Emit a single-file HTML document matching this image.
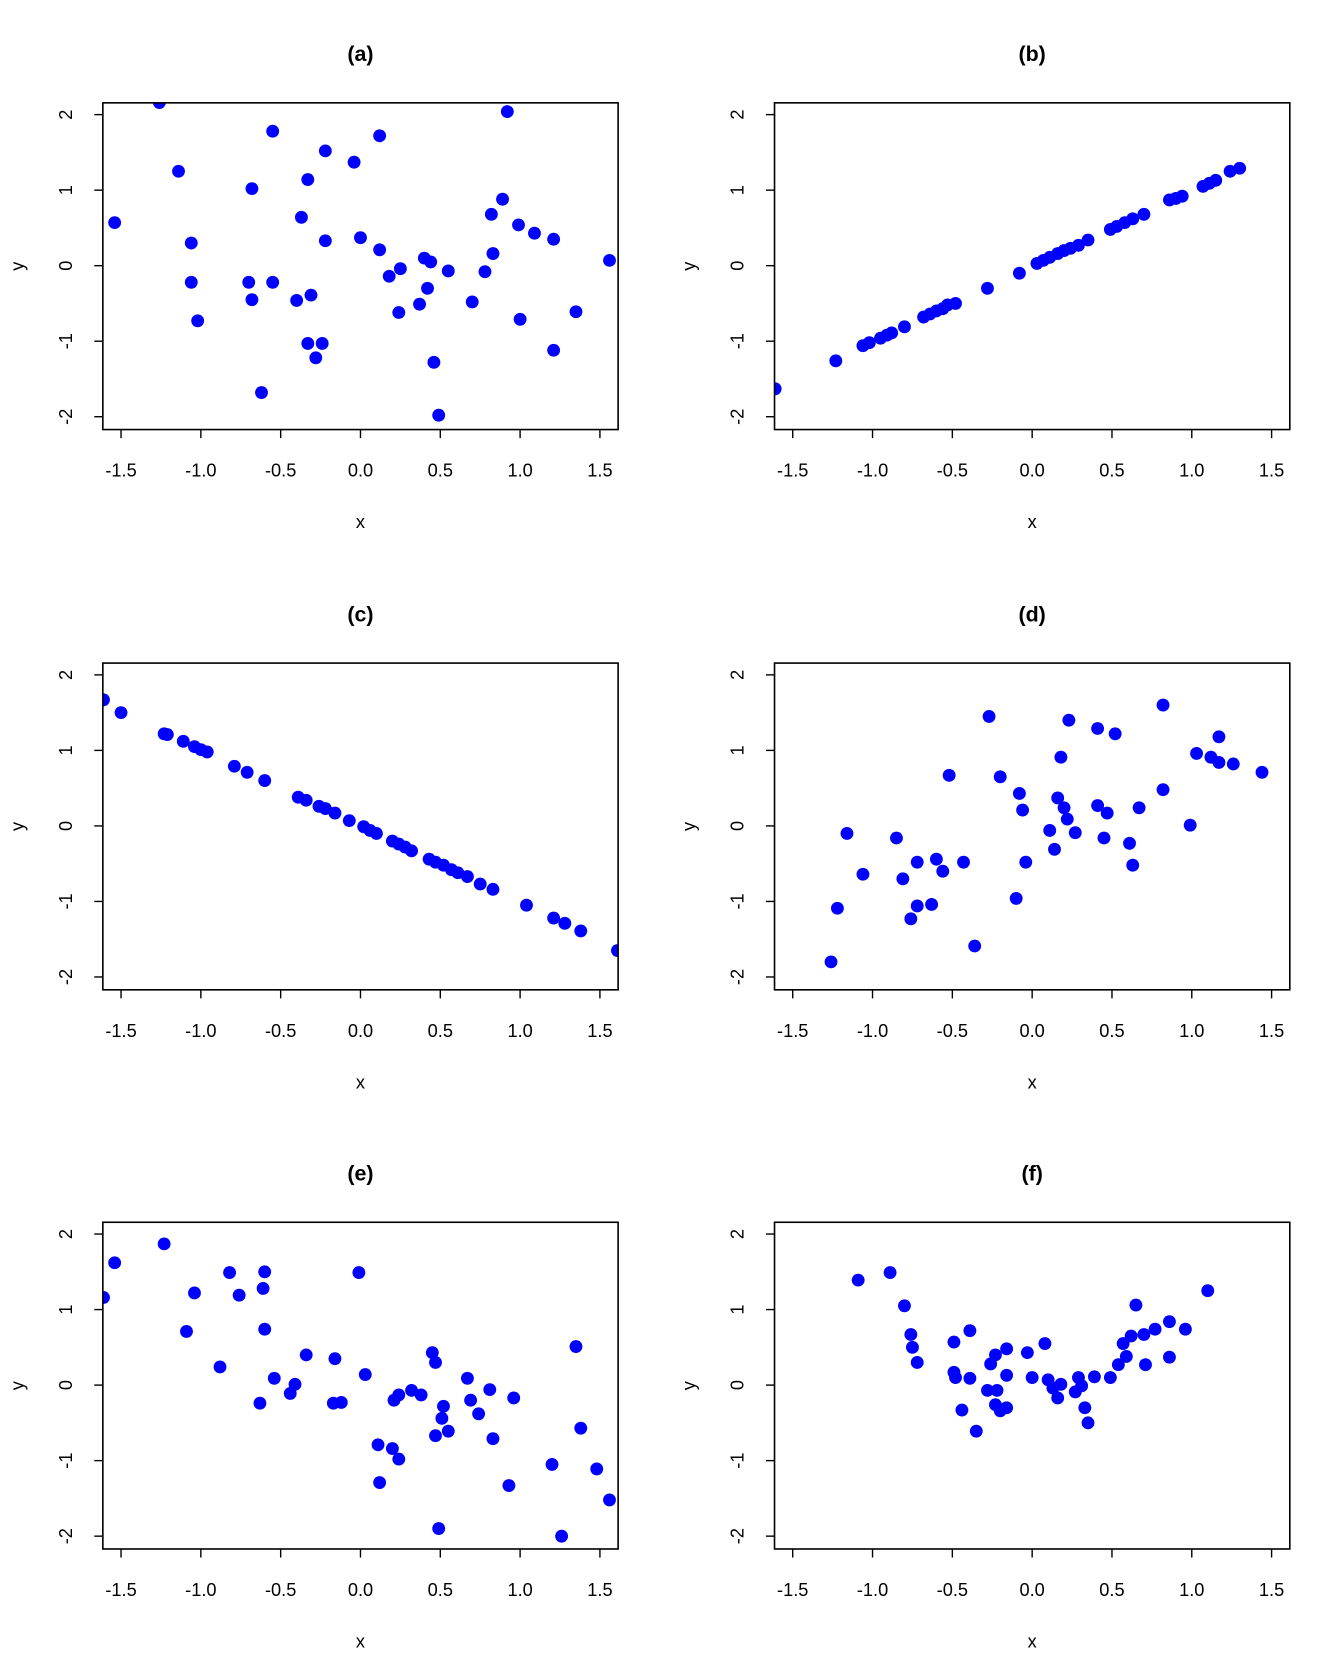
<!DOCTYPE html>
<html><head><meta charset="utf-8"><style>
html,body{margin:0;padding:0;background:#fff}
svg{display:block}
text{font-family:"Liberation Sans",Arial,sans-serif;fill:#000}
</style></head><body>
<svg id="fig" width="1344" height="1680" viewBox="0 0 1254.6 1568.3" preserveAspectRatio="none" xmlns="http://www.w3.org/2000/svg"></svg>
<script>
const panelTitles = ["(a)","(b)","(c)","(d)","(e)","(f)"];
const xTicks = [-1.5,-1.0,-0.5,0.0,0.5,1.0,1.5];
const xTickLabels = ["-1.5","-1.0","-0.5","0.0","0.5","1.0","1.5"];
const yTicks = [-2,-1,0,1,2];
const yTickLabels = ["-2","-1","0","1","2"];

const ax = [-1.54,-1.26,-1.14,-1.06,-1.06,-1.02,-0.68,-0.70,-0.68,-0.55,-0.55,-0.62,-0.37,-0.40,-0.33,-0.31,-0.33,-0.24,-0.28,-0.22,-0.22,-0.04,0.00,0.12,0.12,0.18,0.25,0.24,0.37,0.40,0.44,0.42,0.46,0.49,0.55,0.70,0.78,0.82,0.83,0.89,0.92,0.99,1.00,1.09,1.21,1.21,1.35,1.56];
const ay = [0.57,2.16,1.25,0.30,-0.22,-0.73,1.02,-0.22,-0.45,1.78,-0.22,-1.68,0.64,-0.46,1.14,-0.39,-1.03,-1.03,-1.22,1.52,0.33,1.37,0.37,1.72,0.21,-0.14,-0.04,-0.62,-0.51,0.10,0.05,-0.30,-1.28,-1.98,-0.07,-0.48,-0.08,0.68,0.16,0.88,2.04,0.54,-0.71,0.43,0.35,-1.12,-0.61,0.07];

const bx = [-1.61,-1.23,-1.06,-1.02,-0.95,-0.91,-0.88,-0.80,-0.68,-0.64,-0.60,-0.56,-0.53,-0.48,-0.28,-0.08,0.03,0.07,0.11,0.16,0.20,0.24,0.29,0.35,0.49,0.53,0.58,0.63,0.70,0.86,0.90,0.94,1.07,1.11,1.15,1.24,1.30];
const by = [-1.63,-1.26,-1.06,-1.02,-0.96,-0.92,-0.89,-0.81,-0.68,-0.64,-0.60,-0.57,-0.52,-0.50,-0.30,-0.10,0.03,0.07,0.11,0.16,0.20,0.23,0.27,0.34,0.48,0.52,0.57,0.62,0.68,0.87,0.89,0.92,1.05,1.09,1.13,1.25,1.29];

const cx = [-1.61,-1.50,-1.23,-1.21,-1.11,-1.04,-1.00,-0.96,-0.79,-0.71,-0.60,-0.39,-0.34,-0.26,-0.22,-0.16,-0.07,0.02,0.06,0.10,0.20,0.24,0.28,0.32,0.43,0.47,0.52,0.57,0.61,0.67,0.75,0.83,1.04,1.21,1.28,1.38,1.61];
const cy = [1.67,1.50,1.22,1.21,1.12,1.05,1.01,0.98,0.79,0.71,0.60,0.38,0.34,0.26,0.23,0.17,0.07,-0.01,-0.06,-0.10,-0.20,-0.24,-0.28,-0.33,-0.44,-0.48,-0.52,-0.58,-0.62,-0.67,-0.77,-0.84,-1.05,-1.22,-1.29,-1.39,-1.65];

const dx = [-1.26,-1.22,-1.16,-1.06,-0.85,-0.81,-0.76,-0.72,-0.72,-0.63,-0.60,-0.56,-0.52,-0.43,-0.36,-0.27,-0.20,-0.10,-0.08,-0.06,-0.04,0.11,0.14,0.16,0.18,0.20,0.22,0.23,0.27,0.41,0.41,0.45,0.47,0.52,0.61,0.63,0.67,0.82,0.82,0.99,1.03,1.12,1.17,1.17,1.26,1.44];
const dy = [-1.80,-1.09,-0.10,-0.64,-0.16,-0.70,-1.23,-0.48,-1.06,-1.04,-0.44,-0.60,0.67,-0.48,-1.59,1.45,0.65,-0.96,0.43,0.21,-0.48,-0.06,-0.31,0.37,0.91,0.24,0.09,1.40,-0.09,1.29,0.27,-0.16,0.17,1.22,-0.23,-0.52,0.24,1.60,0.48,0.01,0.96,0.91,1.18,0.84,0.82,0.71];

const ex = [-1.61,-1.54,-1.23,-1.04,-1.09,-0.88,-0.82,-0.76,-0.63,-0.61,-0.60,-0.60,-0.54,-0.44,-0.41,-0.34,-0.16,-0.17,-0.12,-0.01,0.03,0.11,0.12,0.20,0.21,0.24,0.24,0.32,0.38,0.45,0.47,0.47,0.51,0.52,0.49,0.55,0.67,0.69,0.74,0.81,0.83,0.93,0.96,1.20,1.26,1.35,1.38,1.48,1.56];
const ey = [1.16,1.62,1.87,1.22,0.71,0.24,1.49,1.19,-0.24,1.28,1.50,0.74,0.09,-0.11,0.01,0.40,0.35,-0.24,-0.23,1.49,0.14,-0.79,-1.29,-0.84,-0.20,-0.98,-0.13,-0.07,-0.13,0.43,0.30,-0.67,-0.44,-0.28,-1.90,-0.61,0.09,-0.20,-0.38,-0.06,-0.71,-1.33,-0.17,-1.05,-2.00,0.51,-0.57,-1.11,-1.52];

const fx = [-1.09,-0.89,-0.80,-0.76,-0.75,-0.72,-0.49,-0.49,-0.48,-0.44,-0.39,-0.39,-0.35,-0.28,-0.26,-0.23,-0.23,-0.22,-0.20,-0.16,-0.16,-0.16,-0.03,0.00,0.08,0.10,0.13,0.16,0.18,0.27,0.29,0.31,0.33,0.35,0.39,0.49,0.54,0.57,0.59,0.62,0.65,0.70,0.71,0.77,0.86,0.86,0.96,1.10];
const fy = [1.39,1.49,1.05,0.67,0.50,0.30,0.57,0.17,0.10,-0.33,0.72,0.09,-0.61,-0.07,0.28,0.40,-0.26,-0.07,-0.34,0.48,-0.30,0.13,0.43,0.10,0.55,0.07,-0.04,-0.17,0.01,-0.09,0.10,-0.01,-0.30,-0.50,0.11,0.10,0.27,0.55,0.38,0.65,1.06,0.67,0.27,0.74,0.84,0.37,0.74,1.25];

const seriesX = [ax,bx,cx,dx,ex,fx];
const seriesY = [ay,by,cy,dy,ey,fy];

const NS = "http://www.w3.org/2000/svg";
const svg = document.getElementById('fig');
function mk(tag, attrs, parent){
  const e = document.createElementNS(NS, tag);
  for (const k in attrs) e.setAttribute(k, attrs[k]);
  (parent||svg).appendChild(e);
  return e;
}
const XMIN=-1.614, XMAX=1.614, YMIN=-2.17, YMAX=2.156;
const BOXW=481, BOXH=305;
const colX=[96,723], rowY=[96,619,1141];

for (let p=0;p<6;p++){
  const L = colX[p%2], T = rowY[Math.floor(p/2)];
  const sx = v => L + (v - XMIN)/(XMAX - XMIN)*BOXW;
  const sy = v => T + (YMAX - v)/(YMAX - YMIN)*BOXH;
  const g = mk('g',{});
  
  
  const cp = mk('clipPath',{id:'clip'+p}, g);
  mk('rect',{x:L,y:T,width:BOXW,height:BOXH}, cp);
  const title = mk('text',{x:L+BOXW/2,y:T-39,'text-anchor':'middle','font-size':'20','font-weight':'bold'}, g);
  title.textContent = panelTitles[p];
  
  
  const pts = mk('g',{'clip-path':'url(#clip'+p+')'}, g);
  
  
  const xs = seriesX[p], ys = seriesY[p];
  for (let i=0;i<xs.length;i++){
    const c = mk('circle',{cx:sx(xs[i]),cy:sy(ys[i]),r:6,fill:'#0000ff'}, pts);
    
    
  }
  const box = mk('rect',{x:L,y:T,width:BOXW,height:BOXH,fill:'none',stroke:'#000','stroke-width':1.5}, g);
  
  
  const xa = mk('g',{}, g);
  
  
  const B = T + BOXH;
  for (let i=0;i<xTicks.length;i++){
    const x = sx(xTicks[i]);
    mk('line',{x1:x,y1:B,x2:x,y2:B+8,stroke:'#000','stroke-width':1.3}, xa);
    const t = mk('text',{x:x,y:B+44,'text-anchor':'middle','font-size':'17'}, xa);
    t.textContent = xTickLabels[i];
    
    
  }
  const xl = mk('text',{x:L+BOXW/2,y:B+92,'text-anchor':'middle','font-size':'17'}, g);
  xl.textContent = 'x';
  
  
  const ya = mk('g',{}, g);
  
  
  for (let i=0;i<yTicks.length;i++){
    const y = sy(yTicks[i]);
    mk('line',{x1:L,y1:y,x2:L-8,y2:y,stroke:'#000','stroke-width':1.3}, ya);
    const tx = L-29;
    const t = mk('text',{x:tx,y:y,'text-anchor':'middle','font-size':'17',transform:'rotate(-90 '+tx+' '+y+')'}, ya);
    t.textContent = yTickLabels[i];
    
    
  }
  const yx = L-74, yy = T+BOXH/2;
  const yl = mk('text',{x:yx,y:yy,'text-anchor':'middle','font-size':'17',transform:'rotate(-90 '+yx+' '+yy+')'}, g);
  yl.textContent = 'y';
  
  
}
</script>
</body></html>
